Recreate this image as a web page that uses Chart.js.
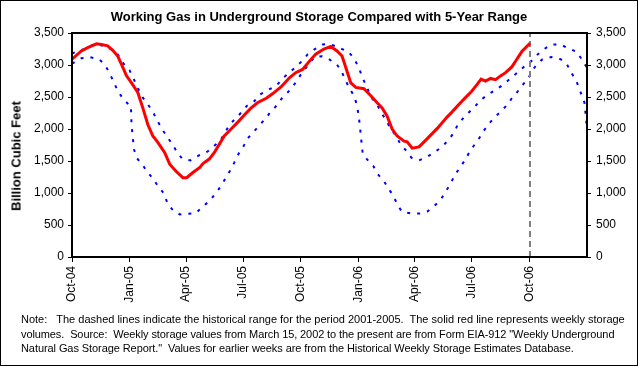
<!DOCTYPE html>
<html>
<head>
<meta charset="utf-8">
<script src="https://cdn.jsdelivr.net/npm/chart.js@4.4.0/dist/chart.umd.min.js"></script>
<style>
  body { margin: 0; background: #fff; }
  #wrap { position: relative; width: 638px; height: 366px; font-family: "Liberation Sans", Arial, sans-serif; color: #000; }
  #frame { position: absolute; left: 0; top: 0; width: 636px; height: 364px; border: 1px solid #000; pointer-events: none; }
  #title { position: absolute; left: 0; top: 9px; width: 638px; text-align: center; font-weight: bold; font-size: 13px; line-height: 15px; }
  #ytitle { position: absolute; left: 16px; top: 156px; transform: translate(-50%, -50%) rotate(-90deg); white-space: nowrap; font-weight: bold; font-size: 13px; }
  #note { position: absolute; left: 21px; top: 312px; font-size: 11px; line-height: 14.5px; white-space: pre; }
  #note span { display: block; }
</style>
</head>
<body>
<div id="wrap">
  <canvas id="myChart" width="638" height="366"></canvas>
  <div id="title">Working Gas in Underground Storage Compared with 5-Year Range</div>
  <div id="ytitle">Billion Cubic Feet</div>
  <div id="note"><span>Note:   The dashed lines indicate the historical range for the period 2001-2005.  The solid red line represents weekly storage</span><span style="letter-spacing:-0.1px">volumes.  Source:  Weekly storage values from March 15, 2002 to the present are from Form EIA-912 "Weekly Underground</span><span style="letter-spacing:-0.08px">Natural Gas Storage Report."  Values for earlier weeks are from the Historical Weekly Storage Estimates Database.</span></div>
  <div id="frame"></div>
</div>
<script>
  // x values are days since Oct 1, 2004
  const tickDays = [0, 92, 182, 273, 365, 457, 547, 638, 730];
  const tickLabels = ['Oct-04', 'Jan-05', 'Apr-05', 'Jul-05', 'Oct-05', 'Jan-06', 'Apr-06', 'Jul-06', 'Oct-06'];
  const lastDay = 822; // Jan 1, 2007
  const markerDay = 731; // dashed vertical line

  // weekly working gas (red)
  const storageDays = [0, 15, 25, 39, 47, 57, 65, 73, 79, 87, 95, 105, 113, 121, 129, 137, 148, 156, 166, 177, 183, 193, 204,
    209, 219, 227, 235, 243, 254, 264, 275, 286, 296, 310, 320, 334, 347, 357, 368, 379, 389, 402, 413, 423, 431, 437, 445,
    453, 466, 477, 487, 495, 503, 511, 519, 530, 535, 543, 554, 567, 583, 599, 606, 617, 628, 638, 646, 653, 660, 668, 676,
    684, 692, 702, 710, 718, 731];
  const storageBcf = [3090, 3220, 3270, 3330, 3320, 3300, 3230, 3140, 3010, 2830, 2720, 2570, 2330, 2070, 1890, 1790, 1630, 1450, 1340, 1240, 1240, 1320, 1400,
    1460, 1530, 1630, 1760, 1890, 2000, 2100, 2220, 2330, 2410, 2480, 2550, 2660, 2800, 2880, 2930, 3060, 3170, 3250, 3290, 3220, 3140, 2960, 2720,
    2650, 2630, 2520, 2410, 2330, 2200, 2000, 1890, 1810, 1800, 1700, 1720, 1850, 2010, 2190, 2260, 2380, 2490, 2590, 2690, 2780, 2750, 2790, 2770,
    2830, 2880, 2970, 3090, 3210, 3340];

  // 5-year range, upper bound (blue dashed)
  const upperDays = [0, 8, 23, 36, 50, 63, 73, 81, 92, 100, 106, 113, 121, 129, 136, 143, 152, 161, 168, 176, 189, 201, 216, 227,
    238, 251, 261, 270, 279, 291, 300, 314, 327, 337, 347, 357, 367, 376, 387, 400, 408, 414, 428, 441, 451, 458, 465, 478,
    486, 494, 501, 508, 517, 524, 533, 542, 554, 566, 579, 591, 602, 610, 616, 625, 633, 643, 652, 664, 677, 689, 701, 712,
    721, 733, 742, 753, 765, 780, 792, 806, 822];
  const upperBcf = [3180, 3210, 3260, 3330, 3300, 3245, 3165, 3035, 2915, 2750, 2620, 2490, 2385, 2270, 2135, 2010, 1875, 1750, 1630, 1535, 1510, 1580, 1645, 1735,
    1840, 2060, 2165, 2255, 2360, 2435, 2540, 2615, 2685, 2800, 2880, 2970, 3060, 3165, 3245, 3320, 3325, 3320, 3260, 3210, 3090, 2950, 2775, 2490,
    2395, 2255, 2135, 2020, 1890, 1770, 1665, 1550, 1510, 1560, 1640, 1725, 1840, 1950, 2075, 2175, 2255, 2350, 2450, 2540, 2615, 2700, 2800, 2890,
    2970, 3060, 3155, 3245, 3320, 3320, 3260, 3205, 2960];

  // 5-year range, lower bound (blue dashed)
  const lowerDays = [0, 15, 28, 43, 51, 59, 67, 73, 81, 90, 94, 95, 97, 99, 104, 113, 120, 129, 137, 147, 152, 161, 172, 184, 198,
    209, 220, 229, 238, 245, 252, 259, 266, 274, 280, 289, 298, 309, 316, 325, 335, 344, 352, 360, 368, 378, 387, 399, 410,
    422, 430, 437, 444, 451, 455, 458, 460, 462, 464, 471, 481, 487, 498, 505, 513, 520, 527, 541, 555, 567, 578, 589, 596,
    604, 610, 618, 627, 633, 641, 649, 657, 666, 675, 684, 693, 702, 710, 719, 729, 734, 742, 751, 765, 780, 790, 797, 805,
    811, 818, 822];
  const lowerBcf = [3020, 3105, 3125, 3090, 3020, 2895, 2725, 2595, 2480, 2385, 2375, 2075, 1865, 1680, 1540, 1435, 1330, 1230, 1110, 990, 850, 730, 665, 675, 685,
    795, 875, 995, 1110, 1230, 1345, 1475, 1615, 1735, 1850, 1945, 2045, 2165, 2255, 2350, 2480, 2570, 2655, 2775, 2890, 3010, 3125, 3135, 3090,
    3020, 2905, 2750, 2620, 2500, 2360, 2175, 1995, 1800, 1615, 1525, 1420, 1305, 1185, 1070, 955, 805, 705, 680, 680, 710, 795, 900, 1020,
    1135, 1265, 1380, 1510, 1615, 1735, 1840, 1970, 2090, 2185, 2270, 2360, 2480, 2570, 2685, 2800, 2905, 3010, 3090, 3125, 3090, 3010, 2880, 2750,
    2595, 2410, 2000];

  const yTicks = [0, 500, 1000, 1500, 2000, 2500, 3000, 3500];

  const toPoints = (xs, ys) => xs.map((x, i) => ({ x: x, y: ys[i] }));
  const tickFont = { family: '"Liberation Sans", Arial, sans-serif', size: 12 };

  // outline of the plot area (top edge)
  const plotBox = {
    id: 'plotBox',
    afterDatasetsDraw(chart) {
      const a = chart.chartArea;
      const c = chart.ctx;
      c.save();
      c.strokeStyle = '#000';
      c.lineWidth = 2;
      c.strokeRect(a.left, a.top, a.right - a.left, a.bottom - a.top);
      c.restore();
    }
  };

  const yAxis = (pos, width, pad) => ({
    position: pos,
    min: 0,
    max: 3500,
    afterBuildTicks: s => { s.ticks = yTicks.map(v => ({ value: v })); },
    afterFit: s => { s.width = width; },
    ticks: { color: '#000', font: tickFont, padding: pad, callback: v => v.toLocaleString('en-US') },
    grid: { drawOnChartArea: false, drawTicks: true, tickLength: 4, color: '#000', lineWidth: 1 },
    border: { color: '#000', width: 2 }
  });

  const ctx = document.getElementById('myChart').getContext('2d');
  const myChart = new Chart(ctx, {
    type: 'line',
    data: {
      datasets: [{
        label: 'Working gas',
        data: toPoints(storageDays, storageBcf),
        borderColor: '#FF0000',
        borderWidth: 3,
        pointRadius: 0,
        tension: 0,
        yAxisID: 'y'
      }, {
        label: 'Marker',
        data: [{ x: markerDay, y: 0 }, { x: markerDay, y: 3500 }],
        borderColor: '#808080',
        borderWidth: 2,
        borderDash: [6, 4],
        pointRadius: 0,
        yAxisID: 'y'
      }, {
        label: 'Upper range',
        data: toPoints(upperDays, upperBcf),
        borderColor: '#0000FF',
        borderWidth: 2,
        borderDash: [3, 7],
        pointRadius: 0,
        tension: 0,
        yAxisID: 'y'
      }, {
        label: 'Lower range',
        data: toPoints(lowerDays, lowerBcf),
        borderColor: '#0000FF',
        borderWidth: 2,
        borderDash: [3, 7],
        pointRadius: 0,
        tension: 0,
        yAxisID: 'y'
      }]
    },
    options: {
      responsive: false,
      animation: false,
      layout: { padding: { top: 33, left: 0, right: 0, bottom: 0 } },
      plugins: {
        legend: { display: false },
        tooltip: { enabled: false },
        title: { display: false }
      },
      scales: {
        x: {
          type: 'linear',
          min: 0,
          max: lastDay,
          afterBuildTicks: s => { s.ticks = tickDays.map(v => ({ value: v })); },
          afterFit: s => { s.height = 109; },
          ticks: {
            autoSkip: false,
            minRotation: 90,
            maxRotation: 90,
            color: '#000',
            font: tickFont,
            padding: 4,
            callback: v => tickLabels[tickDays.indexOf(v)]
          },
          grid: { drawOnChartArea: false, drawTicks: true, tickLength: 5, color: '#000', lineWidth: 1 },
          border: { color: '#000', width: 2 }
        },
        y: yAxis('left', 72, 4),
        y2: yAxis('right', 51, 5)
      }
    },
    plugins: [plotBox]
  });
</script>
</body>
</html>
